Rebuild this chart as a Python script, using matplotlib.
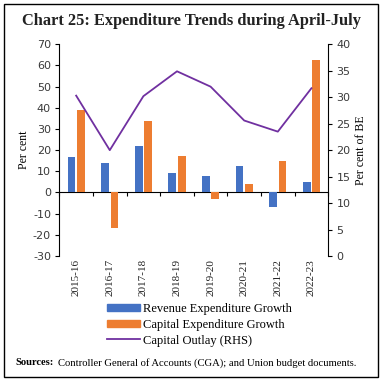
import matplotlib.pyplot as plt
from matplotlib.patches import Patch, Rectangle
from matplotlib.lines import Line2D
import numpy as np

plt.rcParams["axes.unicode_minus"] = False

# ================================
# Data
years = ["2015-16", "2016-17", "2017-18", "2018-19", "2019-20", "2020-21", "2021-22", "2022-23"]
revenue_growth = [16.7, 13.8, 22.0, 9.3, 8.0, 12.4, -6.9, 4.9]
capital_growth = [39.2, -17.0, 33.8, 17.1, -3.3, 4.1, 14.9, 62.6]
capital_outlay = [30.3, 20.0, 30.2, 34.9, 32.0, 25.6, 23.5, 31.7]

c_blue = "#4472C4"
c_orange = "#ED7D31"
c_purple = "#7030A0"
serif = "Liberation Serif"

# ================================
fig = plt.figure(figsize=(3.83, 3.83), dpi=100)
ax = fig.add_axes([0.155, 0.3316, 0.702, 0.5527])
x = np.arange(len(years))
w = 0.23
ax.bar(x - 0.14, revenue_growth, w, color=c_blue)
ax.bar(x + 0.14, capital_growth, w, color=c_orange)
ax.set_xlim(-0.5, len(years) - 0.5)
ax.set_ylim(-30, 70)
ax.set_yticks(range(-30, 71, 10))
ax.tick_params(axis="y", labelsize=8, length=3, width=0.8, pad=3, labelcolor="#3a3a3a")
ax.set_xticks(x)
ax.set_xticklabels(years, rotation=90, fontsize=8, family=serif, color="#222222")
ax.tick_params(axis="x", length=0, pad=2)
ax.spines["top"].set_visible(False)
ax.spines["bottom"].set_visible(False)
ax.spines["right"].set_visible(False)
ax.set_ylabel("Per cent", family=serif, fontsize=8.5, labelpad=2)

# zero line with category boundary ticks
zx = ax.secondary_xaxis(0.3)
zx.set_xticks(np.arange(-0.5, len(years), 1.0))
zx.set_xticklabels([])
zx.tick_params(length=3, width=0.8, direction="out")
zx.spines["bottom"].set_linewidth(0.8)

# right axis
ax2 = ax.twinx()
ax2.plot(x, capital_outlay, color=c_purple, lw=1.3)
ax2.set_ylim(0, 40)
ax2.set_yticks(range(0, 41, 5))
ax2.tick_params(axis="y", labelsize=8, length=3, width=0.8, pad=3, labelcolor="#3a3a3a")
for s in ["top", "bottom", "left"]:
    ax2.spines[s].set_visible(False)
ax2.spines["right"].set_linewidth(0.8)
ax.spines["left"].set_linewidth(0.8)
ax2.set_ylabel("Per cent of BE", family=serif, fontsize=8.5, labelpad=3)

fig.text(0.5, 0.945, "Chart 25: Expenditure Trends during April-July", ha="center", va="center",
         family=serif, fontweight="bold", fontsize=11.8, color="#222222")

handles = [Patch(color=c_blue), Patch(color=c_orange), Line2D([], [], color=c_purple, lw=1.3)]
labels = ["Revenue Expenditure Growth", "Capital Expenditure Growth", "Capital Outlay (RHS)"]
fig.legend(handles, labels, loc="center left", bbox_to_anchor=(0.262, 0.152), frameon=False,
           prop={"family": serif, "size": 9}, handlelength=2.7, handleheight=0.55,
           handletextpad=0.25, labelspacing=0.3, borderpad=0)

fig.text(0.04, 0.053, "Sources:", family=serif, fontweight="bold", fontsize=7.6, va="center")
fig.text(0.152, 0.053, "Controller General of Accounts (CGA); and Union budget documents.",
         family=serif, fontsize=7.7, va="center")

fig.patches.append(Rectangle((0.011, 0.016), 0.977, 0.974, transform=fig.transFigure,
                             fill=False, lw=1.0, ec="black"))

fig.savefig("out.png", dpi=100)
